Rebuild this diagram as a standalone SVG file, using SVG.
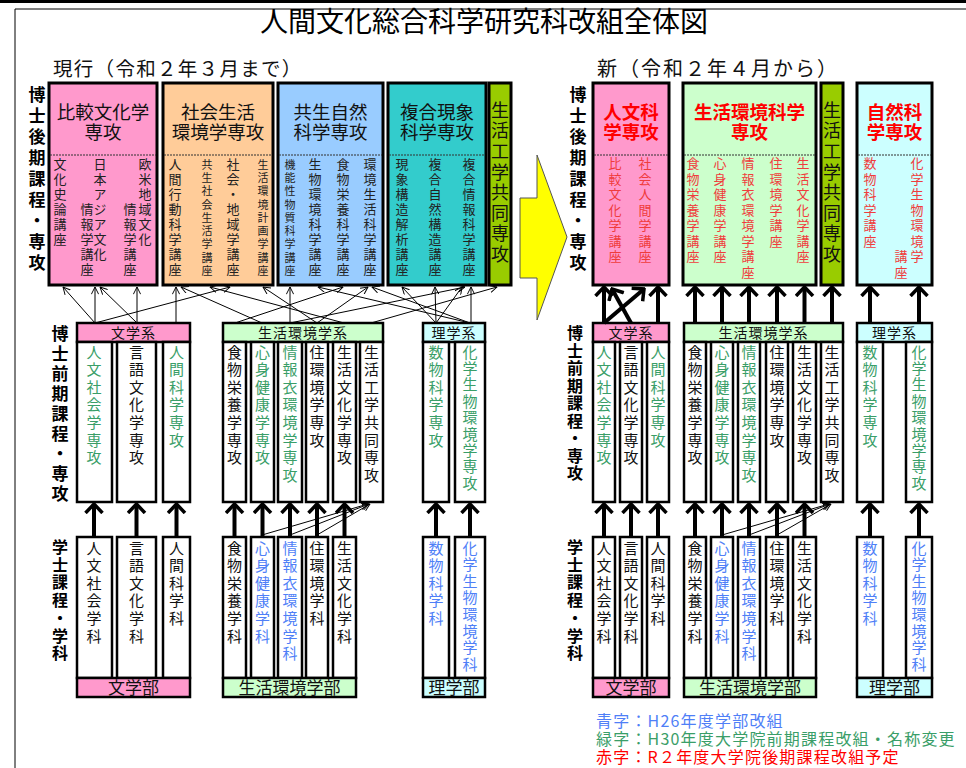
<svg xmlns="http://www.w3.org/2000/svg" width="966" height="768" viewBox="0 0 966 768">
<defs>
<style>
text{font-family:"Noto Sans CJK JP","Noto Sans CJK SC",sans-serif;}
.v{writing-mode:vertical-rl;}
.s13{font-size:13px;letter-spacing:2px;fill:#222;}
.s11{font-size:11px;letter-spacing:2.3px;fill:#222;}
.r13{font-size:13px;letter-spacing:2.5px;fill:#f03c3c;}
.m{font-size:15px;letter-spacing:2.6px;fill:#111;}
.g{fill:#3a9e68;}
.b{fill:#4f7ff7;}
.lbl{font-size:17px;font-weight:bold;fill:#000;}
.hd{font-size:18.5px;fill:#111;text-anchor:middle;}
.rh{font-size:18.5px;font-weight:bold;fill:#ff0000;text-anchor:middle;}
.box{stroke:#000;stroke-width:3;}
.col{fill:#fff;stroke:#000;stroke-width:2.5;}
.bar{stroke:#000;stroke-width:2.5;}
.dash{stroke:#333;stroke-width:1;stroke-dasharray:2,1;}
.thin{stroke:#000;stroke-width:1;fill:none;marker-end:url(#ah);}
.thick{stroke:#000;stroke-width:4;fill:none;marker-end:url(#ahT);}
.sm{font-size:14px;letter-spacing:1px;fill:#111;text-anchor:middle;}
.ft{font-size:17px;fill:#111;text-anchor:middle;}
.lg{font-size:16px;letter-spacing:1.2px;}
</style>
<marker id="ah" viewBox="0 0 10 10" refX="9.5" refY="5" markerWidth="8" markerHeight="8" orient="auto" markerUnits="userSpaceOnUse"><path d="M0.5,0.5 L9.5,5 L0.5,9.5" fill="none" stroke="#000" stroke-width="1.2"/></marker>
<marker id="ahT" viewBox="0 0 12 20" refX="10" refY="10" markerWidth="12" markerHeight="20" orient="auto" markerUnits="userSpaceOnUse"><path d="M1,1.5 L10,10 L1,18.5" fill="none" stroke="#000" stroke-width="3.5"/></marker>
</defs>
<rect width="966" height="768" fill="#fff"/>
<rect x="0" y="0" width="966" height="3" fill="#000"/>
<path d="M15,768 V9 H966" fill="none" stroke="#000" stroke-width="1"/>
<text x="484" y="32" font-size="28" text-anchor="middle" fill="#000">人間文化総合科学研究科改組全体図</text>
<text x="53" y="76" font-size="19.5" fill="#111" style="letter-spacing:1.3px">現行（令和２年３月まで）</text>
<text x="597" y="76" font-size="20" fill="#111" style="letter-spacing:2px">新（令和２年４月から）</text>

<!-- side labels -->
<g id="labels">
<text class="v lbl" x="37" y="86.5" style="letter-spacing:3.9px">博士後期課程・専攻</text>
<text class="v lbl" x="60" y="325.5" style="letter-spacing:3px">博士前期課程・専攻</text>
<text class="v lbl" x="60" y="539" style="font-size:16px;letter-spacing:1.7px">学士課程・学科</text>
<text class="v lbl" x="578" y="86.5" style="letter-spacing:3.9px">博士後期課程・専攻</text>
<text class="v lbl" x="575" y="325" style="font-size:16px;letter-spacing:1.5px">博士前期課程・専攻</text>
<text class="v lbl" x="575" y="539" style="font-size:16px;letter-spacing:1.7px">学士課程・学科</text>
</g>

<!-- yellow arrow -->
<path id="bigArrow" d="M520,198 H537 V155 L567,237 L537,320 V278 H520 Z" fill="#ffff00" stroke="#555" stroke-width="1"/>

<!-- OLD doctoral -->
<g id="hikaku">
<rect class="box" x="49" y="83" width="108" height="202" fill="#ff99cc"/>
<line class="dash" x1="50" y1="155" x2="156" y2="155"/>
<text class="hd" x="103" y="119">比較文化学</text>
<text class="hd" x="103" y="139">専攻</text>
<text class="v s13" x="60" y="158">文化史論講座</text>
<text class="v s13" x="100" y="158">日本アジア文化</text>
<text class="v s13" x="87" y="203">情報学講座</text>
<text class="v s13" x="145" y="158">欧米地域文化</text>
<text class="v s13" x="130" y="203">情報学講座</text>
</g>
<g id="shakai">
<rect class="box" x="163" y="83" width="110" height="202" fill="#ffcc99"/>
<line class="dash" x1="164" y1="155" x2="272" y2="155"/>
<text class="hd" x="218" y="119">社会生活</text>
<text class="hd" x="218" y="139">環境学専攻</text>
<text class="v s13" x="175" y="158">人間行動科学講座</text>
<text class="v s11" x="207" y="159">共生社会生活学講座</text>
<text class="v s13" x="233" y="158">社会・地域学講座</text>
<text class="v s11" x="263" y="159">生活環境計画学講座</text>
</g>
<g id="kyosei">
<rect class="box" x="278" y="83" width="105" height="202" fill="#99ccff"/>
<line class="dash" x1="279" y1="155" x2="382" y2="155"/>
<text class="hd" x="330.5" y="119">共生自然</text>
<text class="hd" x="330.5" y="139">科学専攻</text>
<text class="v s11" x="290" y="159">機能性物質科学講座</text>
<text class="v s13" x="315" y="158">生物環境科学講座</text>
<text class="v s13" x="343" y="158">食物栄養科学講座</text>
<text class="v s13" x="370" y="158">環境生活科学講座</text>
</g>
<g id="fukugo">
<rect class="box" x="388" y="83" width="98" height="202" fill="#33cccc"/>
<line class="dash" x1="389" y1="155" x2="485" y2="155"/>
<text class="hd" x="437" y="119">複合現象</text>
<text class="hd" x="437" y="139">科学専攻</text>
<text class="v s13" x="402" y="158">現象構造解析講座</text>
<text class="v s13" x="435" y="158">複合自然構造講座</text>
<text class="v s13" x="469" y="158">複合情報科学講座</text>
</g>
<g id="seikatsuKogakuOld">
<rect class="box" x="489" y="83" width="22" height="202" fill="#99cc00"/>
<text class="v" x="500" y="101" font-size="18" style="letter-spacing:2.6px" fill="#111">生活工学共同専攻</text>
</g>

<!-- NEW doctoral -->
<g id="jinbun">
<rect class="box" x="593" y="83" width="76" height="202" fill="#ff99cc"/>
<line class="dash" x1="594" y1="155" x2="668" y2="155"/>
<text class="rh" x="631" y="119">人文科</text>
<text class="rh" x="631" y="139">学専攻</text>
<text class="v r13" x="615" y="157">比較文化学講座</text>
<text class="v r13" x="645" y="157">社会人間学講座</text>
</g>
<g id="seikatsuKankyo">
<rect class="box" x="683" y="83" width="133" height="202" fill="#ccffcc"/>
<line class="dash" x1="684" y1="155" x2="815" y2="155"/>
<text class="rh" x="749.5" y="119">生活環境科学</text>
<text class="rh" x="749.5" y="139">専攻</text>
<text class="v r13" x="693" y="157">食物栄養学講座</text>
<text class="v r13" x="720" y="157">心身健康学講座</text>
<text class="v r13" x="748" y="157">情報衣環境学講座</text>
<text class="v r13" x="776" y="157">住環境学講座</text>
<text class="v r13" x="803" y="157">生活文化学講座</text>
</g>
<g id="seikatsuKogakuNew">
<rect class="box" x="821" y="83" width="22" height="202" fill="#99cc00"/>
<text class="v" x="832" y="101" font-size="18" style="letter-spacing:2.6px" fill="#111">生活工学共同専攻</text>
</g>
<g id="shizen">
<rect class="box" x="857" y="83" width="75" height="202" fill="#ccffff"/>
<line class="dash" x1="858" y1="155" x2="931" y2="155"/>
<text class="rh" x="894.5" y="119">自然科</text>
<text class="rh" x="894.5" y="139">学専攻</text>
<text class="v r13" x="870" y="157">数物科学講座</text>
<text class="v r13" x="917" y="157">化学生物環境学</text>
<text class="v r13" x="901" y="250">講座</text>
</g>

<!-- OLD master -->
<g id="bungakuM">
<rect class="bar" x="77" y="323" width="113" height="19" fill="#ff99cc"/>
<text class="sm" x="133.5" y="338">文学系</text>
<rect class="col" x="77" y="342" width="35" height="160"/>
<rect class="col" x="117" y="342" width="39" height="160"/>
<rect class="col" x="163" y="342" width="27" height="160"/>
<text class="v m g" x="94" y="344.5">人文社会学専攻</text>
<text class="v m" x="136.5" y="344.5">言語文化学専攻</text>
<text class="v m g" x="176.5" y="344.5">人間科学専攻</text>
</g>
<g id="seikatsuM">
<rect class="bar" x="223" y="323" width="160" height="19" fill="#ccffcc"/>
<text class="sm" x="303" y="338">生活環境学系</text>
<rect class="col" x="223" y="342" width="23" height="160"/>
<rect class="col" x="251" y="342" width="23" height="160"/>
<rect class="col" x="278" y="342" width="24" height="160"/>
<rect class="col" x="306" y="342" width="22" height="160"/>
<rect class="col" x="333" y="342" width="23" height="160"/>
<rect class="col" x="360" y="342" width="23" height="160"/>
<text class="v m" x="234.5" y="344.5">食物栄養学専攻</text>
<text class="v m g" x="262.5" y="344.5">心身健康学専攻</text>
<text class="v m g" x="290" y="344.5">情報衣環境学専攻</text>
<text class="v m" x="317" y="344.5">住環境学専攻</text>
<text class="v m" x="344.5" y="344.5">生活文化学専攻</text>
<text class="v m" x="371.5" y="344.5">生活工学共同専攻</text>
</g>
<g id="rigakuM">
<rect class="bar" x="423" y="323" width="62" height="19" fill="#ccffff"/>
<text class="sm" x="454" y="338">理学系</text>
<rect class="col" x="423" y="342" width="26" height="160"/>
<rect class="col" x="455" y="342" width="30" height="160"/>
<text class="v m g" x="436" y="344.5">数物科学専攻</text>
<text class="v m g" x="470" y="344.5" style="letter-spacing:1.4px">化学生物環境学専攻</text>
</g>

<!-- NEW master -->
<g id="bungakuMN">
<rect class="bar" x="593" y="323" width="76" height="19" fill="#ff99cc"/>
<text class="sm" x="631" y="338">文学系</text>
<rect class="col" x="593" y="342" width="22" height="160"/>
<rect class="col" x="620" y="342" width="22" height="160"/>
<rect class="col" x="647" y="342" width="22" height="160"/>
<text class="v m g" x="604" y="344.5">人文社会学専攻</text>
<text class="v m" x="631" y="344.5">言語文化学専攻</text>
<text class="v m g" x="658" y="344.5">人間科学専攻</text>
</g>
<g id="seikatsuMN">
<rect class="bar" x="684" y="323" width="159" height="19" fill="#ccffcc"/>
<text class="sm" x="763.5" y="338">生活環境学系</text>
<rect class="col" x="684" y="342" width="22" height="160"/>
<rect class="col" x="711" y="342" width="22" height="160"/>
<rect class="col" x="738" y="342" width="22" height="160"/>
<rect class="col" x="766" y="342" width="22" height="160"/>
<rect class="col" x="793" y="342" width="23" height="160"/>
<rect class="col" x="821" y="342" width="22" height="160"/>
<text class="v m" x="695" y="344.5">食物栄養学専攻</text>
<text class="v m g" x="722" y="344.5">心身健康学専攻</text>
<text class="v m g" x="749" y="344.5">情報衣環境学専攻</text>
<text class="v m" x="777" y="344.5">住環境学専攻</text>
<text class="v m" x="804.5" y="344.5">生活文化学専攻</text>
<text class="v m" x="832" y="344.5">生活工学共同専攻</text>
</g>
<g id="rigakuMN">
<rect class="bar" x="857" y="323" width="75" height="19" fill="#ccffff"/>
<text class="sm" x="894.5" y="338">理学系</text>
<rect class="col" x="857" y="342" width="26" height="160"/>
<rect class="col" x="906" y="342" width="26" height="160"/>
<text class="v m g" x="870" y="344.5">数物科学専攻</text>
<text class="v m g" x="919" y="344.5" style="letter-spacing:1.4px">化学生物環境学専攻</text>
</g>

<!-- OLD undergrad -->
<g id="bungakuB">
<rect class="col" x="77" y="537" width="35" height="141"/>
<rect class="col" x="117" y="537" width="39" height="141"/>
<rect class="col" x="163" y="537" width="27" height="141"/>
<rect class="bar" x="77" y="678" width="113" height="19" fill="#ff99cc"/>
<text class="ft" x="133.5" y="694">文学部</text>
<text class="v m" x="94" y="540.5">人文社会学科</text>
<text class="v m" x="136.5" y="540.5">言語文化学科</text>
<text class="v m" x="176.5" y="540.5">人間科学科</text>
</g>
<g id="seikatsuB">
<rect class="col" x="223" y="537" width="23" height="141"/>
<rect class="col" x="251" y="537" width="23" height="141"/>
<rect class="col" x="278" y="537" width="24" height="141"/>
<rect class="col" x="306" y="537" width="22" height="141"/>
<rect class="col" x="333" y="537" width="23" height="141"/>
<rect class="bar" x="223" y="678" width="133" height="19" fill="#ccffcc"/>
<text class="ft" x="289.5" y="694">生活環境学部</text>
<text class="v m" x="234.5" y="540.5">食物栄養学科</text>
<text class="v m b" x="262.5" y="540.5">心身健康学科</text>
<text class="v m b" x="290" y="540.5">情報衣環境学科</text>
<text class="v m" x="317" y="540.5">住環境学科</text>
<text class="v m" x="344.5" y="540.5">生活文化学科</text>
</g>
<g id="rigakuB">
<rect class="col" x="423" y="537" width="26" height="141"/>
<rect class="col" x="455" y="537" width="30" height="141"/>
<rect class="bar" x="423" y="678" width="62" height="19" fill="#ccffff"/>
<text class="ft" x="454" y="694">理学部</text>
<text class="v m b" x="436" y="540.5">数物科学科</text>
<text class="v m b" x="470" y="540.5" style="letter-spacing:1.6px">化学生物環境学科</text>
</g>

<!-- NEW undergrad -->
<g id="bungakuBN">
<rect class="col" x="593" y="537" width="22" height="141"/>
<rect class="col" x="620" y="537" width="22" height="141"/>
<rect class="col" x="647" y="537" width="22" height="141"/>
<rect class="bar" x="593" y="678" width="76" height="19" fill="#ff99cc"/>
<text class="ft" x="631" y="694">文学部</text>
<text class="v m" x="604" y="540.5">人文社会学科</text>
<text class="v m" x="631" y="540.5">言語文化学科</text>
<text class="v m" x="658" y="540.5">人間科学科</text>
</g>
<g id="seikatsuBN">
<rect class="col" x="684" y="537" width="22" height="141"/>
<rect class="col" x="711" y="537" width="22" height="141"/>
<rect class="col" x="738" y="537" width="22" height="141"/>
<rect class="col" x="766" y="537" width="22" height="141"/>
<rect class="col" x="793" y="537" width="23" height="141"/>
<rect class="bar" x="684" y="678" width="132" height="19" fill="#ccffcc"/>
<text class="ft" x="750" y="694">生活環境学部</text>
<text class="v m" x="695" y="540.5">食物栄養学科</text>
<text class="v m b" x="722" y="540.5">心身健康学科</text>
<text class="v m b" x="749" y="540.5">情報衣環境学科</text>
<text class="v m" x="777" y="540.5">住環境学科</text>
<text class="v m" x="804.5" y="540.5">生活文化学科</text>
</g>
<g id="rigakuBN">
<rect class="col" x="857" y="537" width="26" height="141"/>
<rect class="col" x="906" y="537" width="26" height="141"/>
<rect class="bar" x="857" y="678" width="75" height="19" fill="#ccffff"/>
<text class="ft" x="894.5" y="694">理学部</text>
<text class="v m b" x="870" y="540.5">数物科学科</text>
<text class="v m b" x="919" y="540.5" style="letter-spacing:1.6px">化学生物環境学科</text>
</g>

<!-- connectors -->
<g id="connectors">
<!-- bottom to master, old -->
<line class="thick" x1="94" y1="537" x2="94" y2="504"/>
<line class="thick" x1="136.5" y1="537" x2="136.5" y2="504"/>
<line class="thick" x1="176.5" y1="537" x2="176.5" y2="504"/>
<line class="thick" x1="234.5" y1="537" x2="234.5" y2="504"/>
<line class="thick" x1="262.5" y1="537" x2="262.5" y2="504"/>
<line class="thick" x1="290" y1="537" x2="290" y2="504"/>
<line class="thick" x1="317" y1="537" x2="317" y2="504"/>
<line class="thick" x1="344.5" y1="537" x2="344.5" y2="504"/>
<line class="thick" x1="436" y1="537" x2="436" y2="504"/>
<line class="thick" x1="470" y1="537" x2="470" y2="504"/>
<line class="thin" x1="262" y1="535" x2="368" y2="504"/>
<line class="thin" x1="290" y1="535" x2="369" y2="504"/>
<line class="thin" x1="317" y1="535" x2="370" y2="504"/>
<!-- bottom to master, new -->
<line class="thick" x1="604" y1="537" x2="604" y2="504"/>
<line class="thick" x1="631" y1="537" x2="631" y2="504"/>
<line class="thick" x1="658" y1="537" x2="658" y2="504"/>
<line class="thick" x1="695" y1="537" x2="695" y2="504"/>
<line class="thick" x1="722" y1="537" x2="722" y2="504"/>
<line class="thick" x1="749" y1="537" x2="749" y2="504"/>
<line class="thick" x1="777" y1="537" x2="777" y2="504"/>
<line class="thick" x1="804.5" y1="537" x2="804.5" y2="504"/>
<line class="thick" x1="870" y1="537" x2="870" y2="504"/>
<line class="thick" x1="919" y1="537" x2="919" y2="504"/>
<line class="thin" x1="722" y1="535" x2="829" y2="504"/>
<line class="thin" x1="749" y1="535" x2="830" y2="504"/>
<line class="thin" x1="777" y1="535" x2="831" y2="504"/>
<!-- master to doctoral, new -->
<line class="thick" x1="604" y1="323" x2="604" y2="287"/>
<line class="thick" x1="604" y1="323" x2="644" y2="289"/>
<line class="thick" x1="631" y1="323" x2="612" y2="289"/>
<line class="thick" x1="658" y1="323" x2="658" y2="287"/>
<line class="thick" x1="695" y1="323" x2="695" y2="287"/>
<line class="thick" x1="722" y1="323" x2="722" y2="287"/>
<line class="thick" x1="749" y1="323" x2="749" y2="287"/>
<line class="thick" x1="777" y1="323" x2="777" y2="287"/>
<line class="thick" x1="804.5" y1="323" x2="804.5" y2="287"/>
<line class="thick" x1="832" y1="323" x2="832" y2="287"/>
<line class="thick" x1="870" y1="323" x2="870" y2="287"/>
<line class="thick" x1="919" y1="323" x2="919" y2="287"/>
<!-- master to doctoral, old (thin) -->
<line class="thin" x1="95" y1="323" x2="63" y2="287"/>
<line class="thin" x1="95" y1="323" x2="95" y2="287"/>
<line class="thin" x1="95" y1="323" x2="230" y2="287"/>
<line class="thin" x1="137" y1="323" x2="100" y2="287"/>
<line class="thin" x1="137" y1="323" x2="137" y2="287"/>
<line class="thin" x1="176" y1="323" x2="176" y2="287"/>
<line class="thin" x1="262" y1="323" x2="181" y2="287"/>
<line class="thin" x1="344" y1="323" x2="210" y2="287"/>
<line class="thin" x1="317" y1="323" x2="263" y2="287"/>
<line class="thin" x1="235" y1="323" x2="343" y2="287"/>
<line class="thin" x1="290" y1="323" x2="290" y2="287"/>
<line class="thin" x1="290" y1="323" x2="465" y2="287"/>
<line class="thin" x1="317" y1="323" x2="368" y2="287"/>
<line class="thin" x1="470" y1="323" x2="372" y2="287"/>
<line class="thin" x1="470" y1="323" x2="318" y2="287"/>
<line class="thin" x1="371" y1="323" x2="497" y2="287"/>
<line class="thin" x1="436" y1="323" x2="402" y2="287"/>
<line class="thin" x1="436" y1="323" x2="435" y2="287"/>
<line class="thin" x1="436" y1="323" x2="462" y2="287"/>
<line class="thin" x1="471" y1="323" x2="471" y2="287"/>
</g>

<g id="legend">
<text class="lg" x="596" y="727" fill="#4f7ff7">青字：H26年度学部改組</text>
<text class="lg" x="596" y="745" fill="#3a9e68">緑字：H30年度大学院前期課程改組・名称変更</text>
<text class="lg" x="596" y="763" fill="#ff0000">赤字：R２年度大学院後期課程改組予定</text>
</g>
</svg>
